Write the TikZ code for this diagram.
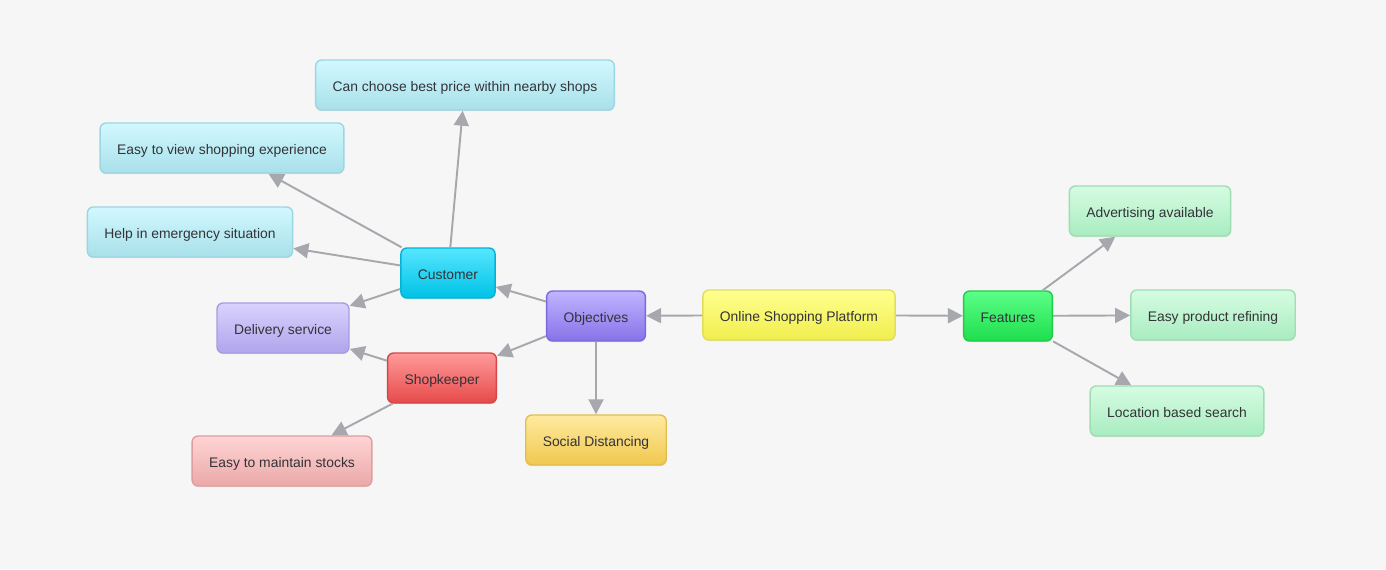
\documentclass[tikz,border=0pt]{standalone}
\usepackage{fontspec}
\setmainfont{Liberation Sans}
\usetikzlibrary{arrows,arrows.meta,positioning,shadows}
\tikzset{every shadow/.style={fill=black,opacity=0.10,shadow xshift=0pt,shadow yshift=-0.6pt}}
\usepackage{xcolor}

\definecolor{bgc}{HTML}{F6F6F6}
\definecolor{txt}{HTML}{333338}
\definecolor{arr}{HTML}{A6A8AE}
\definecolor{cyanT}{HTML}{D2F8FE}\definecolor{cyanB}{HTML}{A8E0EA}\definecolor{cyanD}{HTML}{9CD6E2}
\definecolor{custT}{HTML}{56E6FF}\definecolor{custB}{HTML}{00C2E6}\definecolor{custD}{HTML}{00B4D8}
\definecolor{lpurT}{HTML}{DAD2FD}\definecolor{lpurB}{HTML}{B0A4EC}\definecolor{lpurD}{HTML}{A79BE2}
\definecolor{objT}{HTML}{C0B4FF}\definecolor{objB}{HTML}{8872E8}\definecolor{objD}{HTML}{7C68DE}
\definecolor{shopT}{HTML}{FF9A9A}\definecolor{shopB}{HTML}{E64A4A}\definecolor{shopD}{HTML}{D64646}
\definecolor{pinkT}{HTML}{FFD4D4}\definecolor{pinkB}{HTML}{EBA8A8}\definecolor{pinkD}{HTML}{E09E9E}
\definecolor{socT}{HTML}{FFEAA0}\definecolor{socB}{HTML}{F0C84E}\definecolor{socD}{HTML}{E2BE4E}
\definecolor{onlT}{HTML}{FFFF90}\definecolor{onlB}{HTML}{F0EE4C}\definecolor{onlD}{HTML}{E2DE5C}
\definecolor{featT}{HTML}{5CFF88}\definecolor{featB}{HTML}{1EDE4E}\definecolor{featD}{HTML}{1ECC46}
\definecolor{grnT}{HTML}{D6FCE2}\definecolor{grnB}{HTML}{A8ECC0}\definecolor{grnD}{HTML}{9EDEB2}

\begin{document}
\begin{tikzpicture}[x=0.02cm,y=-0.02cm,
  box/.style={rectangle,rounded corners=0.12cm,minimum height=1cm,inner xsep=0.34cm,
    text height=1.4ex,text depth=0pt,
    line width=0.8pt,text=txt,font=\fontsize{7.9}{9}\selectfont,drop shadow},
  cyanleaf/.style={box,top color=cyanT,bottom color=cyanB,draw=cyanD},
  custbox/.style={box,top color=custT,bottom color=custB,draw=custD},
  purleaf/.style={box,top color=lpurT,bottom color=lpurB,draw=lpurD},
  objbox/.style={box,top color=objT,bottom color=objB,draw=objD},
  shopbox/.style={box,top color=shopT,bottom color=shopB,draw=shopD},
  pinkleaf/.style={box,top color=pinkT,bottom color=pinkB,draw=pinkD},
  socbox/.style={box,top color=socT,bottom color=socB,draw=socD},
  onlbox/.style={box,top color=onlT,bottom color=onlB,draw=onlD},
  featbox/.style={box,top color=featT,bottom color=featB,draw=featD},
  grnleaf/.style={box,top color=grnT,bottom color=grnB,draw=grnD},
  link/.style={-{Triangle[length=0.3cm,width=0.3cm]},color=arr,line width=1.1pt}]
\fill[bgc,use as bounding box] (0,0) rectangle (1386,569);
%
\node (onl) [onlbox] at (799,315) {Online Shopping Platform};
\node (obj) [objbox] at (596,316) {Objectives};
\node (feat) [featbox] at (1008,316) {Features};
%
\node (cust) [custbox] at (448,273) {Customer};
\node (shop) [shopbox] at (442,378) {Shopkeeper};
\node (soc) [socbox] at (596,440) {Social Distancing};
%
\node (price) [cyanleaf] at (465,85) {Can choose best price within nearby shops};
\node (view) [cyanleaf] at (222,148) {Easy to view shopping experience};
\node (help) [cyanleaf] at (190,232) {Help in emergency situation};
\node (deliv) [purleaf] at (283,328) {Delivery service};
\node (stock) [pinkleaf] at (282,461) {Easy to maintain stocks};
%
\node (adv) [grnleaf] at (1150,211) {Advertising available};
\node (refine) [grnleaf] at (1213,315) {Easy product refining};
\node (loc) [grnleaf] at (1177,411) {Location based search};
%
\path[link] (onl) edge (obj);
\path[link] (onl) edge (feat);
\path[link] (obj) edge (cust);
\path[link] (obj) edge (shop);
\path[link] (obj) edge (soc);
\path[link] (cust) edge (price);
\path[link] (cust) edge (view);
\path[link] (cust) edge (help);
\path[link] (cust) edge (deliv);
\path[link] (shop) edge (deliv);
\path[link] (shop) edge (stock);
\path[link] (feat) edge (adv);
\path[link] (feat) edge (refine);
\path[link] (feat) edge (loc);
\end{tikzpicture}
\end{document}
